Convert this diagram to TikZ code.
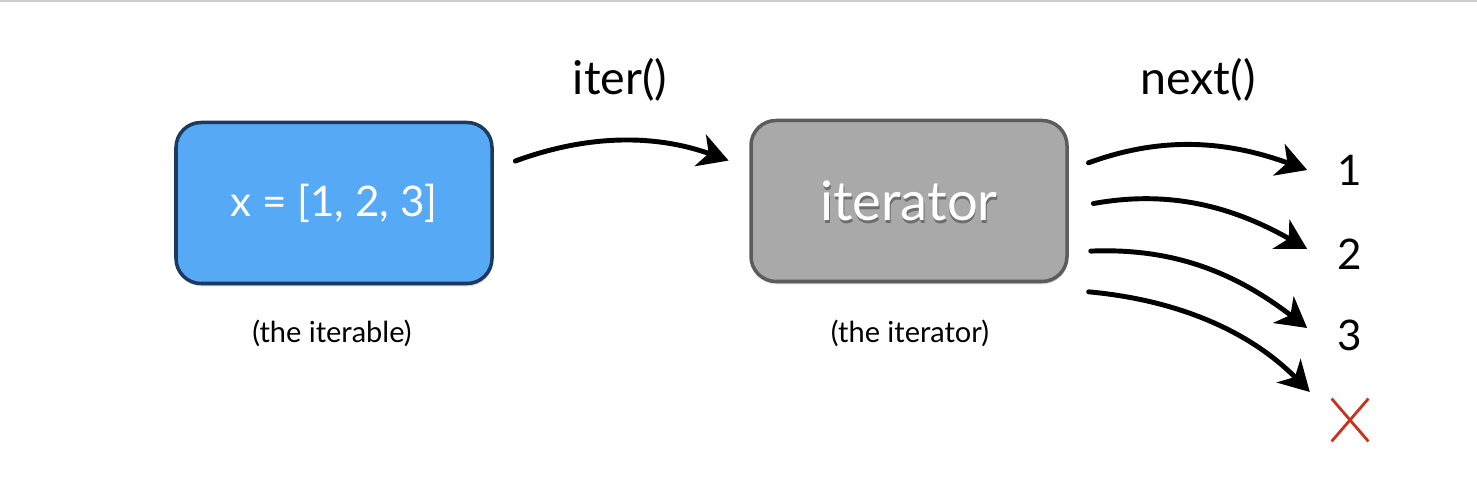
\documentclass[tikz,border=0pt]{standalone}
\usepackage{fontspec}
\setmainfont{Lato}
\usepackage{tikz}
\usetikzlibrary{positioning, arrows.meta, shadows, shapes.misc}

\definecolor{boxblue}{HTML}{56A9F5}
\definecolor{boxnavy}{HTML}{1C3A60}
\definecolor{boxgray}{HTML}{A8A9A8}
\definecolor{rimgray}{HTML}{5C5C5C}
\definecolor{crossred}{HTML}{C8321E}

\tikzset{
    objbox/.style={rounded corners=0.5cm, minimum width=6.32cm, minimum height=3.22cm, line width=2pt,
        drop shadow={shadow xshift=0.4pt, shadow yshift=-1.6pt, opacity=0.3}},
    numlabel/.style={font=\fontsize{24}{28}\selectfont, minimum width=1.7cm, inner sep=1pt},
    sketcharrow/.style={line width=2.8pt, line cap=round, bend left=20,
        arrows = {-Stealth[length=17pt, width=19pt, inset=5pt]}}
}

\begin{document}
\begin{tikzpicture}
    \useasboundingbox (0,0) rectangle (29.54,9.82);
    \draw[black!20, line width=1.2pt] (0,9.8) -- (29.54,9.8);

    \node[objbox, draw=boxnavy, fill=boxblue, text=white, font=\fontsize{24}{28}\selectfont] at (6.68,5.76) (iterable) {x = [1, 2, 3]};
    \node[objbox, draw=rimgray, fill=boxgray, text=white, font=\fontsize{31}{36}\selectfont,
        path picture={\node[text=black, opacity=0.35] at ([shift={(0.5pt,-1.4pt)}]path picture bounding box.center) {iterator};}] at (18.18,5.8) (iter) {iterator};

    \node[font=\fontsize{16.5}{20}\selectfont] at (6.64,3.16) (iterablelabel) {(the iterable)};
    \node[font=\fontsize{16.5}{20}\selectfont] at (18.2,3.16) (iterlabel) {(the iterator)};

    \node[font=\fontsize{26.5}{30}\selectfont] at (12.4,8.22) (itercall) {iter()};
    \node[font=\fontsize{26.5}{30}\selectfont] at (23.96,8.22) (nextcall) {next()};

    \node[numlabel] at (27,6.42) (one) {1};
    \node[numlabel] at (27,4.74) (two) {2};
    \node[numlabel] at (27,3.12) (three) {3};
    \node[cross out, draw=crossred, line width=1.6pt, minimum width=0.68cm, minimum height=0.8cm, inner sep=0pt] at (27,1.42) (stop) {};

    \draw[sketcharrow, shorten <=0.46cm, shorten >=0.44cm] ([yshift=0.68cm]iterable.east) to ([yshift=0.66cm]iter.west);

    \draw[sketcharrow, shorten <=0.42cm] ([yshift=0.62cm]iter.east) to (one.west);
    \draw[sketcharrow, shorten <=0.5cm] ([yshift=-0.14cm]iter.east) to ([yshift=0.1cm]two.west);
    \draw[sketcharrow, shorten <=0.44cm] ([yshift=-1.02cm]iter.east) to ([yshift=0.14cm]three.west);
    \draw[sketcharrow, shorten <=0.4cm, shorten >=0.62cm] ([yshift=-1.78cm]iter.east) to ([yshift=0.12cm]stop.west);
\end{tikzpicture}
\end{document}
